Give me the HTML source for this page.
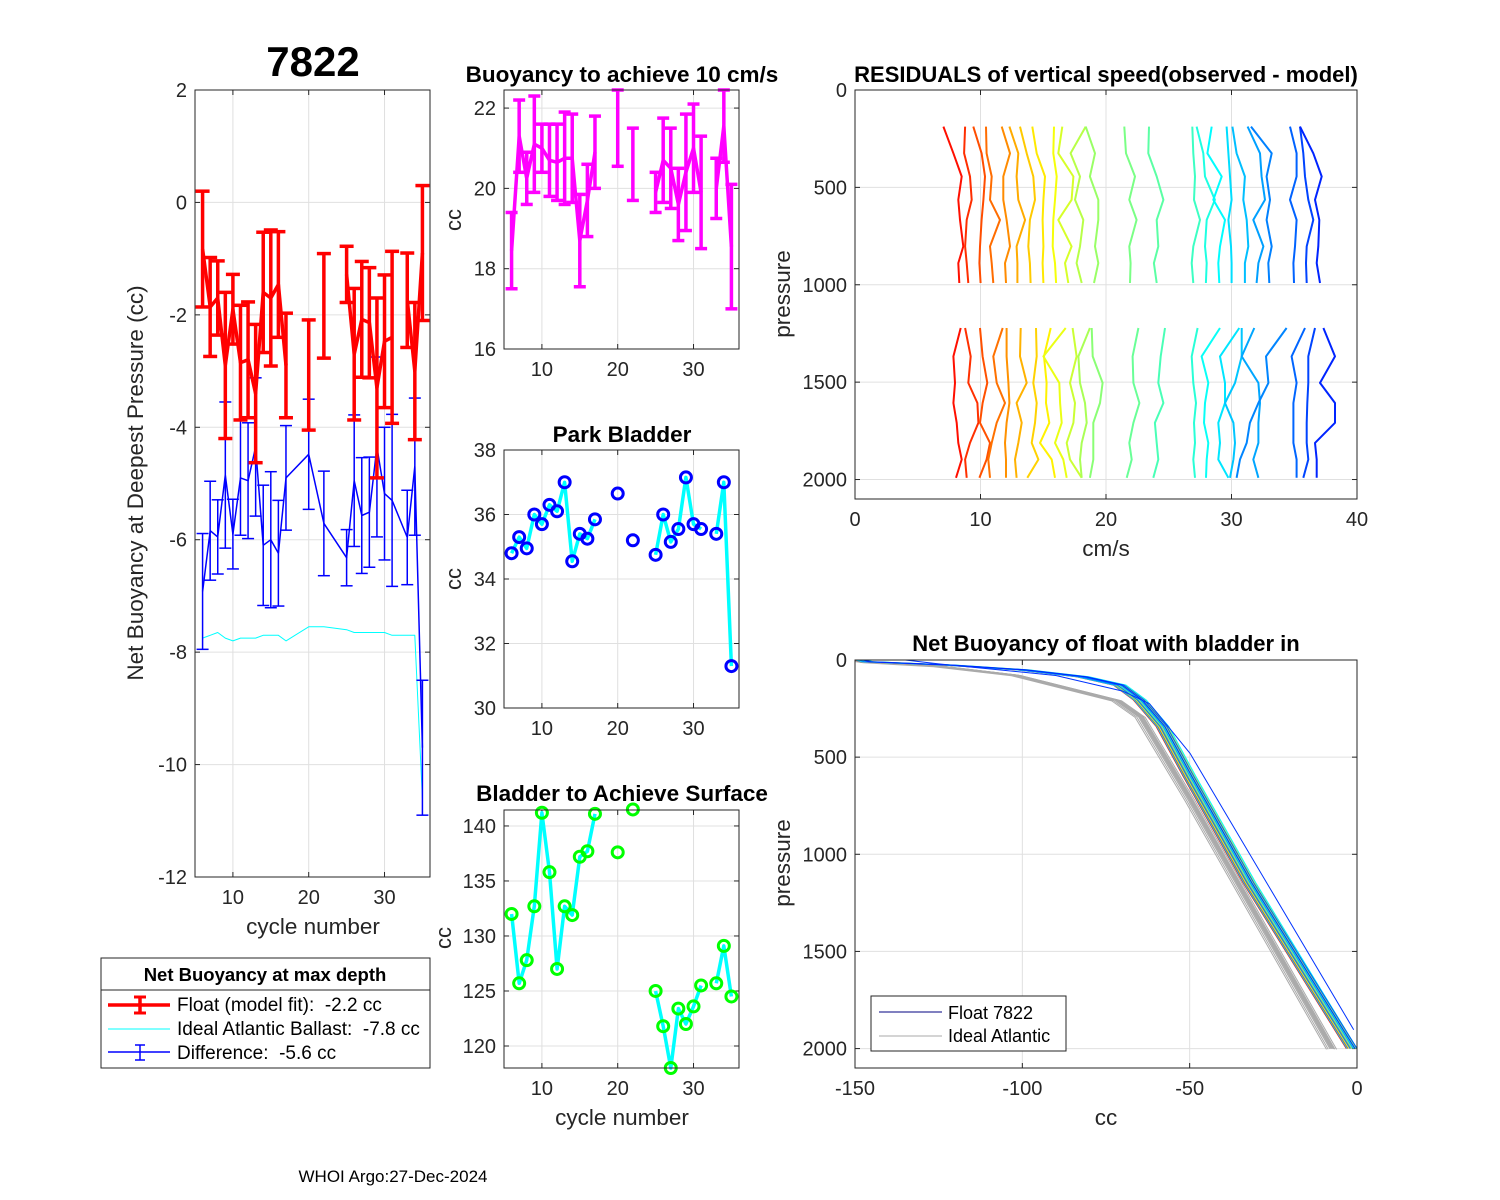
<!DOCTYPE html>
<html><head><meta charset="utf-8">
<style>
html,body{margin:0;padding:0;background:#fff;}
svg{display:block;font-family:"Liberation Sans",Arial,sans-serif;}
text{white-space:pre;}
</style></head>
<body>
<svg id="fig" width="1500" height="1200" viewBox="0 0 1500 1200">
<rect x="0" y="0" width="1500" height="1200" fill="#fff"/>
</svg>
<script>
// ---------- data: left panel ----------
const cycles = [6,7,8,9,10,11,12,13,14,15,16,17,20,22,25,26,27,28,29,30,31,33,34,35];
const redMid = [-0.83,-1.86,-1.7,-2.9,-1.9,-2.85,-2.8,-3.4,-1.6,-1.7,-1.46,-2.9,-3.07,-1.84,-1.28,-2.7,-2.08,-2.14,-3.3,-2.47,-2.4,-1.74,-3.0,-0.9];
const redErr = [1.03,0.88,0.66,1.3,0.62,1.02,1.03,1.23,1.07,1.21,0.94,0.93,0.98,0.93,0.5,1.17,1.03,0.98,1.6,1.18,1.53,0.84,1.22,1.2];
const idealBallast = [-7.75,-7.7,-7.65,-7.75,-7.8,-7.75,-7.75,-7.75,-7.7,-7.7,-7.7,-7.8,-7.55,-7.55,-7.6,-7.65,-7.65,-7.65,-7.65,-7.65,-7.7,-7.7,-7.7,-10.6];
// ---------- data: middle panels ----------
const buoyMid = [18.45,21.3,20.25,21.1,21.0,20.7,20.65,20.75,20.75,18.7,19.7,20.9,21.5,20.6,19.9,20.7,20.5,19.6,20.4,21.0,19.9,20.0,21.55,18.55];
const buoyErr = [0.95,0.9,0.65,1.2,0.6,0.9,0.95,1.15,1.1,1.15,0.9,0.9,0.95,0.9,0.5,1.05,1.0,0.9,1.45,1.1,1.4,0.75,0.9,1.55];
const parkBladder = [34.8,35.3,34.95,36.0,35.7,36.3,36.1,37.0,34.55,35.4,35.25,35.85,36.65,35.2,34.75,36.0,35.15,35.55,37.15,35.7,35.55,35.4,37.0,31.3];
const surfBladder = [132,125.7,127.8,132.7,141.2,135.8,127.0,132.7,131.9,137.2,137.7,141.1,137.6,141.5,125,121.8,118,123.4,122,123.6,125.5,125.7,129.1,124.5];
// ---------- data: residuals ----------
const resPU = [188,325,444,564,667,803,889,991];
const resUpper = [
[7.04,7.84,8.50,8.23,8.37,8.63,8.23,8.31],
[8.77,8.69,9.16,9.30,8.90,8.77,8.90,9.03],
[9.43,10.09,10.36,10.23,10.09,9.96,9.91,10.01],
[10.44,10.49,10.89,10.76,11.55,10.76,10.89,11.02],
[11.69,12.35,11.82,11.82,12.08,12.35,11.95,12.03],
[12.30,13.01,12.88,13.01,13.55,12.88,12.94,12.94],
[13.15,13.68,14.21,14.34,13.94,13.81,13.94,13.99],
[14.13,14.48,15.14,15.01,14.95,15.01,14.95,15.01],
[15.86,15.80,16.07,15.94,15.80,15.75,15.94,16.02],
[16.52,16.20,17.40,17.26,16.20,17.26,16.73,17.00],
[18.38,17.18,17.93,17.53,18.19,17.93,17.66,18.06],
[18.38,19.12,18.72,19.39,19.39,19.12,19.39,19.04],
[21.46,21.59,22.31,21.86,22.44,21.86,21.96,21.91],
[23.43,23.37,24.04,24.57,24.04,24.17,23.82,24.04],
[26.88,26.96,27.09,27.01,27.49,26.96,26.83,26.96],
[27.22,27.75,27.89,28.68,28.02,27.89,28.02,27.96],
[28.42,28.08,29.22,28.55,29.48,29.08,28.95,29.03],
[29.61,29.75,29.88,30.01,29.75,29.96,30.01,30.01],
[30.07,30.41,31.07,30.94,31.21,31.34,31.07,31.07],
[31.28,32.27,32.40,32.67,31.74,32.54,32.14,32.00],
[31.55,33.20,32.80,33.07,32.80,33.20,32.93,33.01],
[34.66,35.19,35.19,34.66,35.19,35.06,34.93,34.98],
[35.46,35.72,35.86,36.12,36.52,35.99,35.94,35.99],
[35.46,36.52,37.19,36.65,37.00,36.92,36.79,37.05]];
const resPL = [1222,1368,1504,1607,1709,1812,1897,1991];
const resLower = [
[8.42,7.84,7.97,7.84,8.10,8.23,8.50,8.05],
[8.77,9.22,9.03,9.75,9.83,9.16,8.77,8.90],
[9.96,10.17,10.54,10.17,9.96,10.76,10.49,9.91],
[11.77,11.02,11.29,11.95,11.29,10.89,10.62,10.76],
[12.08,12.08,12.22,12.30,12.08,11.95,12.03,12.03],
[13.20,13.15,13.68,12.88,13.28,13.01,12.75,12.88],
[14.42,14.48,14.21,14.48,14.34,14.08,14.61,13.73],
[15.59,15.06,15.27,15.22,15.48,14.74,15.67,15.94],
[16.79,15.01,16.28,16.34,16.47,15.94,16.60,16.87],
[17.34,17.66,17.13,17.53,17.40,16.87,17.13,18.06],
[18.72,17.80,17.93,18.33,18.46,18.06,17.93,18.06],
[18.86,18.94,19.73,19.52,18.99,18.99,18.99,18.72],
[22.58,22.12,22.18,22.66,22.18,21.86,22.05,21.65],
[24.70,24.36,24.17,24.57,23.90,24.04,24.17,23.77],
[27.30,26.83,26.96,27.17,27.01,27.09,26.96,27.09],
[29.08,27.62,28.15,27.89,27.81,28.15,28.02,27.97],
[30.62,29.08,29.48,29.48,28.95,29.08,28.95,29.75],
[30.81,30.81,30.28,29.48,30.15,30.28,30.15,29.88],
[31.82,30.81,32.14,32.27,32.14,32.14,31.74,32.14],
[34.39,32.75,32.94,32.14,31.47,31.21,30.68,30.41],
[35.86,34.79,35.19,34.93,34.93,34.93,35.19,35.19],
[36.65,36.12,36.12,36.04,35.99,35.99,36.12,35.72],
[37.32,38.25,37.05,38.25,38.25,36.65,36.79,36.79]];
// ---------- data: net buoyancy profiles ----------
const nbP = [0,9,26,51,86,129,206,343,600,1148,2000];
const nbCC = [-148,-146.5,-121.6,-99.8,-81.9,-70.8,-64.8,-58,-49.9,-32,-1.2];
const nbOffsets = [-2,-1.5,-1,-0.5,0,0.5,1,1.5,-1.2,0.8,-0.3,0.3,1.8,-1.8,0.1,-0.8,1.2,0.6];
const idP = [0,10,30,77,206,291,720,2000];
const idCC = [-150,-146,-125,-101.7,-71.8,-64.8,-49.9,-7.6];
const idOffsets = [-1,-0.5,0,0.5,1,-1.5,1.5,0.2,-0.2,0.7];
const olP = [0,20,80,160,225,480,1903];
const olCC = [-135,-125,-90,-70,-62,-49.9,-1];

// ---------- helpers ----------
const svg = document.getElementById('fig');
const NS = svg.namespaceURI;
function mk(tag, attrs, name, inter, parent){
  const e = document.createElementNS(NS, tag);
  for (const k in attrs) e.setAttribute(k, attrs[k]);
  
  
  (parent || svg).appendChild(e);
  return e;
}
function txt(x,y,s,opt,name){
  const t = mk('text', {x:x,y:y,'font-size':opt.size||20,'text-anchor':opt.anchor||'middle',fill:opt.fill||'#262626','font-weight':opt.bold?'bold':'normal'}, name, 'false');
  if (opt.rot) t.setAttribute('transform','rotate(-90 '+x+' '+y+')');
  t.textContent = s;
  return t;
}
function jet(t){
  const r = Math.max(0,Math.min(1,1.5-Math.abs(4*t-3)));
  const g = Math.max(0,Math.min(1,1.5-Math.abs(4*t-2)));
  const b = Math.max(0,Math.min(1,1.5-Math.abs(4*t-1)));
  return 'rgb('+Math.round(r*255)+','+Math.round(g*255)+','+Math.round(b*255)+')';
}
function axes(c){
  const g = mk('g', {}, c.name, 'false');
  const sx = v => c.x0 + (v-c.xmin)/(c.xmax-c.xmin)*(c.x1-c.x0);
  const sy = c.yrev ? (v => c.y0 + (v-c.ymin)/(c.ymax-c.ymin)*(c.y1-c.y0))
                    : (v => c.y1 - (v-c.ymin)/(c.ymax-c.ymin)*(c.y1-c.y0));
  c.xticks.forEach(v=>{
    const x = sx(v);
    mk('line',{x1:x,x2:x,y1:c.y0,y2:c.y1,stroke:'#e0e0e0','stroke-width':1},'x-grid-line','false',g);
    mk('line',{x1:x,x2:x,y1:c.y1,y2:c.y1-5,stroke:'#262626'},'x-tick','false',g);
    mk('line',{x1:x,x2:x,y1:c.y0,y2:c.y0+5,stroke:'#262626'},'x-tick','false',g);
    txt(x, c.y1+27, String(v), {}, 'x-tick-label');
  });
  c.yticks.forEach(v=>{
    const y = sy(v);
    mk('line',{x1:c.x0,x2:c.x1,y1:y,y2:y,stroke:'#e0e0e0','stroke-width':1},'y-grid-line','false',g);
    mk('line',{x1:c.x0,x2:c.x0+5,y1:y,y2:y,stroke:'#262626'},'y-tick','false',g);
    mk('line',{x1:c.x1,x2:c.x1-5,y1:y,y2:y,stroke:'#262626'},'y-tick','false',g);
    txt(c.x0-8, y+7, String(v), {anchor:'end'}, 'y-tick-label');
  });
  c.g = g; c.sx = sx; c.sy = sy;
  return c;
}
function frame(c){
  mk('rect',{x:c.x0,y:c.y0,width:c.x1-c.x0,height:c.y1-c.y0,fill:'none',stroke:'#262626','stroke-width':1},'axes-box','false');
}
function runs(){ // indices split at cycle gaps
  const out=[]; let cur=[0];
  for(let i=1;i<cycles.length;i++){ if(cycles[i]-cycles[i-1]===1) cur.push(i); else {out.push(cur); cur=[i];} }
  out.push(cur); return out;
}
function polyl(pts, stroke, w, name, parent){
  return mk('polyline',{points:pts.map(p=>p[0].toFixed(1)+','+p[1].toFixed(1)).join(' '),fill:'none',stroke:stroke,'stroke-width':w,'stroke-linejoin':'round'},name,'false',parent);
}
function errbar(a, x, mid, err, color, w, cap, name){
  const g = mk('g',{},name,'false',a.g);
  const X=a.sx(x), yl=a.sy(mid-err), yh=a.sy(mid+err);
  mk('line',{x1:X,x2:X,y1:yl,y2:yh,stroke:color,'stroke-width':w},'error-bar-stem','false',g);
  mk('line',{x1:X-cap,x2:X+cap,y1:yl,y2:yl,stroke:color,'stroke-width':w},'error-bar-cap','false',g);
  mk('line',{x1:X-cap,x2:X+cap,y1:yh,y2:yh,stroke:color,'stroke-width':w},'error-bar-cap','false',g);
}

// ---------- left panel ----------
const A = axes({name:'net-buoyancy-axes',x0:195,x1:430,y0:90,y1:877,xmin:5,xmax:36,ymin:-12,ymax:2,xticks:[10,20,30],yticks:[-12,-10,-8,-6,-4,-2,0,2]});
polyl(cycles.map((c,i)=>[A.sx(c),A.sy(idealBallast[i])]),'#00ffff',1,'ideal-ballast-line',A.g);
const diff = cycles.map((c,i)=>idealBallast[i]-redMid[i]);
polyl(cycles.map((c,i)=>[A.sx(c),A.sy(diff[i])]),'#0000ff',1.5,'difference-line',A.g);
cycles.forEach((c,i)=>errbar(A,c,diff[i],redErr[i],'#0000ff',1.5,6,'difference-error-bar'));
runs().forEach(r=>polyl(r.map(i=>[A.sx(cycles[i]),A.sy(redMid[i])]),'#ff0000',3.5,'float-model-fit-line',A.g));
cycles.forEach((c,i)=>errbar(A,c,redMid[i],redErr[i],'#ff0000',3.5,7,'float-error-bar'));
frame(A);
txt(313,76,'7822',{size:42,bold:true,fill:'#000'},'main-title');
txt(143,483,'Net Buoyancy at Deepest Pressure (cc)',{size:22.5,rot:true},'y-axis-title');
txt(313,934,'cycle number',{size:22.5},'x-axis-title');

// legend
const lg = mk('g',{},'legend','false');
mk('rect',{x:101,y:958,width:329,height:110,fill:'#fff',stroke:'#262626'},'legend-box','false',lg);
mk('line',{x1:101,x2:430,y1:990,y2:990,stroke:'#262626'},'legend-separator','false',lg);
txt(265,981,'Net Buoyancy at max depth',{size:18.5,bold:true,fill:'#000'},'legend-title');
mk('line',{x1:108,x2:170,y1:1005,y2:1005,stroke:'#ff0000','stroke-width':3.5},'legend-float-line','false',lg);
mk('line',{x1:140,x2:140,y1:997,y2:1013,stroke:'#ff0000','stroke-width':3.5},'legend-float-bar','false',lg);
mk('line',{x1:134,x2:146,y1:997,y2:997,stroke:'#ff0000','stroke-width':3},'legend-float-cap','false',lg);
mk('line',{x1:134,x2:146,y1:1013,y2:1013,stroke:'#ff0000','stroke-width':3},'legend-float-cap','false',lg);
txt(177,1011,'Float (model fit):  -2.2 cc',{size:19,anchor:'start',fill:'#000'},'legend-float-entry');
mk('line',{x1:108,x2:170,y1:1029,y2:1029,stroke:'#00ffff','stroke-width':1},'legend-ideal-line','false',lg);
txt(177,1035,'Ideal Atlantic Ballast:  -7.8 cc',{size:19,anchor:'start',fill:'#000'},'legend-ideal-entry');
mk('line',{x1:108,x2:170,y1:1052,y2:1052,stroke:'#0000ff','stroke-width':1.5},'legend-diff-line','false',lg);
mk('line',{x1:140,x2:140,y1:1045,y2:1060,stroke:'#0000ff','stroke-width':1.5},'legend-diff-bar','false',lg);
mk('line',{x1:135,x2:145,y1:1045,y2:1045,stroke:'#0000ff','stroke-width':1.5},'legend-diff-cap','false',lg);
mk('line',{x1:135,x2:145,y1:1060,y2:1060,stroke:'#0000ff','stroke-width':1.5},'legend-diff-cap','false',lg);
txt(177,1059,'Difference:  -5.6 cc',{size:19,anchor:'start',fill:'#000'},'legend-diff-entry');
txt(393,1182,'WHOI Argo:27-Dec-2024',{size:17,fill:'#000'},'footer-date');

// ---------- buoyancy 10 cm/s ----------
const B = axes({name:'buoyancy-10cms-axes',x0:504,x1:739,y0:90,y1:349,xmin:5,xmax:36,ymin:16,ymax:22.45,xticks:[10,20,30],yticks:[16,18,20,22]});
runs().forEach(r=>polyl(r.map(i=>[B.sx(cycles[i]),B.sy(buoyMid[i])]),'#ff00ff',3.5,'buoyancy-line',B.g));
cycles.forEach((c,i)=>errbar(B,c,buoyMid[i],buoyErr[i],'#ff00ff',3.5,6,'buoyancy-error-bar'));
frame(B);
txt(622,82,'Buoyancy to achieve 10 cm/s',{size:22.5,bold:true,fill:'#000'},'buoyancy-title');
txt(461,220,'cc',{size:22,rot:true},'buoyancy-y-title');

// ---------- park bladder ----------
const C = axes({name:'park-bladder-axes',x0:504,x1:739,y0:450,y1:708,xmin:5,xmax:36,ymin:30,ymax:38,xticks:[10,20,30],yticks:[30,32,34,36,38]});
runs().forEach(r=>{ if(r.length>1) polyl(r.map(i=>[C.sx(cycles[i]),C.sy(parkBladder[i])]),'#00ffff',3.5,'park-bladder-line',C.g); });
cycles.forEach((c,i)=>mk('circle',{cx:C.sx(c),cy:C.sy(parkBladder[i]),r:5.5,fill:'none',stroke:'#0000ff','stroke-width':3},'park-bladder-point','false',C.g));
frame(C);
txt(622,442,'Park Bladder',{size:22.5,bold:true,fill:'#000'},'park-bladder-title');
txt(461,579,'cc',{size:22,rot:true},'park-bladder-y-title');

// ---------- surface bladder ----------
const D = axes({name:'surface-bladder-axes',x0:504,x1:739,y0:810,y1:1068,xmin:5,xmax:36,ymin:118,ymax:141.45,xticks:[10,20,30],yticks:[120,125,130,135,140]});
runs().forEach(r=>{ if(r.length>1) polyl(r.map(i=>[D.sx(cycles[i]),D.sy(surfBladder[i])]),'#00ffff',3.5,'surface-bladder-line',D.g); });
cycles.forEach((c,i)=>mk('circle',{cx:D.sx(c),cy:D.sy(surfBladder[i]),r:5.5,fill:'none',stroke:'#00ff00','stroke-width':3},'surface-bladder-point','false',D.g));
frame(D);
txt(622,801,'Bladder to Achieve Surface',{size:22.5,bold:true,fill:'#000'},'surface-bladder-title');
txt(451,938,'cc',{size:22,rot:true},'surface-bladder-y-title');
txt(622,1125,'cycle number',{size:22.5},'surface-bladder-x-title');

// ---------- residuals ----------
const E = axes({name:'residuals-axes',x0:855,x1:1357,y0:90,y1:499,xmin:0,xmax:40,ymin:0,ymax:2100,yrev:true,xticks:[0,10,20,30,40],yticks:[0,500,1000,1500,2000]});
resUpper.forEach((ln,k)=>polyl(ln.map((v,j)=>[E.sx(v),E.sy(resPU[j])]),jet(0.86-0.7*k/(resUpper.length-1)),2,'residual-line-upper',E.g));
resLower.forEach((ln,k)=>polyl(ln.map((v,j)=>[E.sx(v),E.sy(resPL[j])]),jet(0.86-0.7*k/(resLower.length-1)),2,'residual-line-lower',E.g));
frame(E);
txt(1106,82,'RESIDUALS of vertical speed(observed - model)',{size:22,bold:true,fill:'#000'},'residuals-title');
txt(790,294,'pressure',{size:22.5,rot:true},'residuals-y-title');
txt(1106,556,'cm/s',{size:22.5},'residuals-x-title');

// ---------- net buoyancy profiles ----------
const F = axes({name:'net-buoyancy-profile-axes',x0:855,x1:1357,y0:660,y1:1068,xmin:-150,xmax:0,ymin:0,ymax:2100,yrev:true,xticks:[-150,-100,-50,0],yticks:[0,500,1000,1500,2000]});
const clipR = mk('clipPath',{id:'clipF'},'clip-region','false');
mk('rect',{x:855,y:660,width:502,height:408},'clip-rect','false',clipR);
const FG = mk('g',{'clip-path':'url(#clipF)'},'profile-lines','false',F.g);
idOffsets.forEach(o=>polyl(idP.map((p,j)=>[F.sx(Math.min(0,idCC[j]+o)),F.sy(p+Math.abs(o)*3)]),'#aaaaaa',1,'ideal-atlantic-profile',FG));
nbOffsets.forEach((o,k)=>polyl(nbP.map((p,j)=>[F.sx(Math.min(0,nbCC[j]+o)),F.sy(p)]),jet(0.86-0.7*k/(nbOffsets.length-1)),1,'float-profile',FG));
polyl(olP.map((p,j)=>[F.sx(olCC[j]),F.sy(p)]),'#0033ff',1,'outlier-profile',FG);
frame(F);
txt(1106,651,'Net Buoyancy of float with bladder in',{size:22,bold:true,fill:'#000'},'net-profile-title');
txt(790,863,'pressure',{size:22.5,rot:true},'net-profile-y-title');
txt(1106,1125,'cc',{size:22.5},'net-profile-x-title');
const lg2 = mk('g',{},'profile-legend','false');
mk('rect',{x:871,y:996,width:195,height:55,fill:'#fff',stroke:'#262626'},'profile-legend-box','false',lg2);
mk('line',{x1:879,x2:942,y1:1012,y2:1012,stroke:'#000080','stroke-width':1},'legend-float-profile-line','false',lg2);
txt(948,1019,'Float 7822',{size:18,anchor:'start',fill:'#000'},'legend-float-profile-entry');
mk('line',{x1:879,x2:942,y1:1036,y2:1036,stroke:'#aaaaaa','stroke-width':1},'legend-ideal-profile-line','false',lg2);
txt(948,1042,'Ideal Atlantic',{size:18,anchor:'start',fill:'#000'},'legend-ideal-profile-entry');
</script>
</body></html>
